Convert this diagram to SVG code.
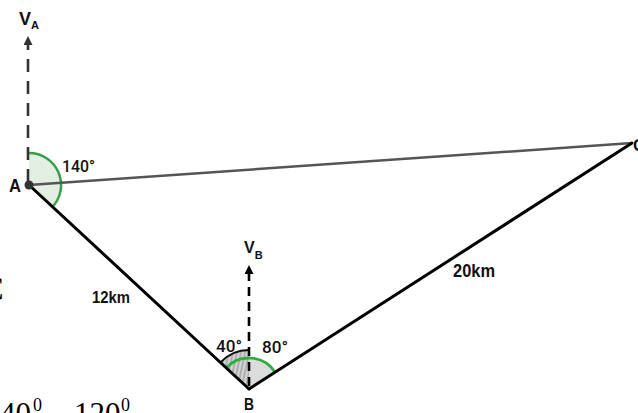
<svg xmlns="http://www.w3.org/2000/svg" width="638" height="413" viewBox="0 0 638 413">
<style>
.lbl{font-family:"Liberation Sans",Arial,sans-serif;font-weight:bold;fill:#111;}
.ang{font-family:Roboto,"Liberation Sans",Arial,sans-serif;font-weight:500;fill:#111;}
.tm{font-family:"Liberation Serif","Times New Roman",serif;fill:#000;}
.solid{fill:none;stroke:#000;stroke-width:3;stroke-linecap:round;}
.vel{fill:none;stroke-width:2.6;}
</style>
<defs>
<marker id="arrA" viewBox="0 0 10 10" refX="1" refY="5" markerWidth="15" markerHeight="9" markerUnits="userSpaceOnUse" orient="auto">
<path d="M0,0 L10,5 L0,10 Z" fill="#333"/>
</marker>
<marker id="arrB" viewBox="0 0 10 10" refX="1" refY="5" markerWidth="15" markerHeight="9" markerUnits="userSpaceOnUse" orient="auto">
<path d="M0,0 L10,5 L0,10 Z" fill="#000"/>
</marker>
<pattern id="hatch" patternUnits="userSpaceOnUse" width="4" height="4" patternTransform="rotate(12)">
<rect width="4" height="4" fill="#d4d4d4"/>
<line x1="1" y1="0" x2="1" y2="4" stroke="#555" stroke-width="0.6"/>
</pattern>
</defs>

<g id="angles">
<g id="angle-A">
<path d="M29,185 L29,153 A32,32 0 0 1 52.5,206.8 Z" fill="#e2efe2"/>
<path d="M29,153 A32,32 0 0 1 52.5,206.8" fill="none" stroke="#3a9e48" stroke-width="2.5"/>
</g>
<g id="angle-B">
<path d="M249,389 L249,358 A31,31 0 0 1 275.1,372.3 Z" fill="#dcdcdc"/>
<path d="M249,389 L220.4,362.5 A39,39 0 0 1 249,350 Z" fill="url(#hatch)"/>
<path d="M220.4,362.5 A39,39 0 0 1 249,350" fill="none" stroke="#111" stroke-width="2"/>
<path d="M226.3,367.9 A31,31 0 0 1 275.1,372.3" fill="none" stroke="#2eae3e" stroke-width="2.8"/>
</g>
</g>

<g id="connectors">
<line id="AC" x1="29" y1="185" x2="632" y2="143" stroke="#555" stroke-width="2.5"/>
<line id="AB" class="solid" x1="29" y1="185" x2="249" y2="389"/>
<line id="BC" class="solid" x1="249" y1="389" x2="632" y2="143"/>
<line id="VA" class="vel" x1="28" y1="182" x2="28" y2="44" stroke="#333" stroke-dasharray="13,9" marker-end="url(#arrA)"/>
<line id="VB" class="vel" x1="249" y1="386" x2="249" y2="273" stroke="#000" stroke-width="3" stroke-dasharray="9,6" marker-end="url(#arrB)"/>
</g>

<g id="node-A">
<circle cx="29" cy="185" r="4.5" fill="#333"/>
<text class="lbl" x="9" y="192" font-size="19" textLength="12" lengthAdjust="spacingAndGlyphs">A</text>
</g>
<g id="node-B">
<text class="lbl" x="244" y="410" font-size="17" textLength="10" lengthAdjust="spacingAndGlyphs">B</text>
</g>
<g id="node-C">
<text class="lbl" x="633" y="151" font-size="17">C</text>
</g>

<g id="labels">
<text class="lbl" x="19" y="25" font-size="18">V<tspan font-size="11" dy="4">A</tspan></text>
<text class="lbl" x="244" y="253" font-size="16">V<tspan font-size="11" dy="6">B</tspan></text>
<text class="ang" x="62" y="172" font-size="16.5" textLength="33" lengthAdjust="spacingAndGlyphs">140°</text>
<text class="ang" x="216" y="352" font-size="16" textLength="26" lengthAdjust="spacingAndGlyphs">40°</text>
<text class="ang" x="262" y="353" font-size="16" textLength="26" lengthAdjust="spacingAndGlyphs">80°</text>
<text class="lbl" x="92" y="303" font-size="17" textLength="38" lengthAdjust="spacingAndGlyphs">12km</text>
<text class="lbl" x="453" y="277" font-size="17.5" textLength="42" lengthAdjust="spacingAndGlyphs">20km</text>
<text class="tm" x="-19" y="300" font-size="34">C</text>
<text class="tm" x="0" y="424" font-size="31">40</text>
<text class="tm" x="33" y="411" font-size="18">0</text>
<text class="tm" x="74" y="424" font-size="31">120</text>
<text class="tm" x="121" y="411" font-size="18">0</text>
</g>
</svg>
